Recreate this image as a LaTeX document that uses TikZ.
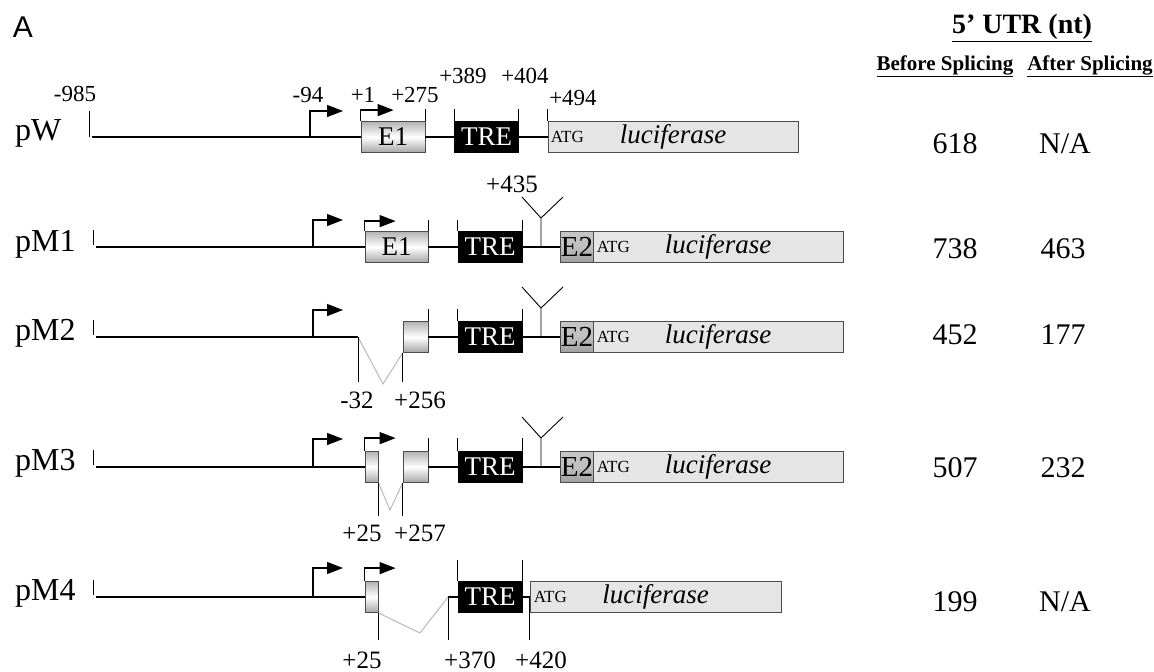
\documentclass[tikz,border=0pt]{standalone}
\usepackage{fontspec}
\setmainfont{Liberation Serif}
\newfontfamily\panelfont{Liberation Sans}
\usetikzlibrary{positioning,arrows.meta}
\newcommand\fsz[1]{\fontsize{#1}{#1}\selectfont}

\begin{document}
\begin{tikzpicture}[x=1pt, y=-1pt,
  bb/.style={line width=2.8pt},
  tk/.style={line width=0.9pt},
  spl/.style={gray!55, line width=1pt},
  prom/.style={line width=1.3pt, -{Triangle[length=16pt,width=12pt]}},
  ex/.style={draw=black!70, line width=0.8pt, minimum height=31pt, inner sep=0pt,
    top color=gray!60, bottom color=gray!70, middle color=white, font=\fsz{27}},
  etwo/.style={ex, top color=gray!45, bottom color=gray!75, middle color=gray!50, font=\fsz{29}},
  tre/.style={draw, fill=black, text=white, minimum height=31pt, minimum width=64pt,
    inner sep=0pt, font=\fsz{27}},
  luc/.style={draw=black!70, line width=0.8pt, fill=gray!20, minimum height=31pt,
    inner sep=0pt, font=\itshape\fsz{27}},
  atg/.style={font=\fsz{17}, inner sep=0pt, anchor=west},
  ntup/.style={font=\fsz{23}, inner sep=0pt},
  ntlow/.style={font=\fsz{25}, inner sep=0pt},
  rowlab/.style={font=\fsz{32}, inner sep=0pt, anchor=base west},
  val/.style={font=\fsz{30}, inner sep=0pt},
  hd/.style={font=\bfseries\fsz{21}, inner sep=0pt}]
  \useasboundingbox (0,0) rectangle (1154,672);

  % header
  \node[font=\panelfont\fsz{30}, inner sep=0pt] (panA) at (23,27) {A};
  \node[hd, font=\bfseries\fsz{28}] (utr) at (1022,28) {\underline{5’ UTR (nt)}};
  \node[hd] (before) at (945,66) {\underline{Before Splicing}};
  \node[hd] (after) at (1090,66) {\underline{After Splicing}};

  % pW
  \node[rowlab] (wLab) at (15,140) {pW};
  \coordinate (wT) at (89,137);
  \coordinate (wS) at (92,137);
  \coordinate (wP) at (310,137);
  \node[ex, minimum width=64pt] (wE1) at (393,137) {E1};
  \node[tre] (wTRE) at (486.5,137) {TRE};
  \node[luc, minimum width=250pt] (wLuc) at (673,137) {luciferase};
  \node[atg] (wATG) at ([xshift=3pt]wLuc.west) {ATG};
  \draw[bb] (wS) -- (wE1.west) (wE1.east) -- (wTRE.west) (wTRE.east) -- (wLuc.west);
  \draw[tk] (wT) -- ++(0,-26);
  \draw[tk] (wE1.north east) -- ++(0,-12) (wTRE.north west) -- ++(0,-12)
    (wTRE.north east) -- ++(0,-12) (wLuc.north west) -- ++(0,-12);
  \draw[prom] (wP) |- ++(33,-26);
  \draw[prom] (wE1.north west) |- ++(33,-11);
  \node[ntup] at (75,94) {-985};
  \node[ntup] at (308,95) {-94};
  \node[ntup] at (363,95) {+1};
  \node[ntup] at (415,95) {+275};
  \node[ntup] at (463,76) {+389};
  \node[ntup] at (525,76) {+404};
  \node[ntup] at (573,98) {+494};
  \node[val] (wB) at (955,144) {618};
  \node[val] (wA) at (1065,144) {N/A};

  % pM1
  \node[rowlab] (aLab) at (15,251) {pM1};
  \coordinate (aT) at (93,247);
  \coordinate (aS) at (96,247);
  \coordinate (aP) at (313,247);
  \coordinate (aY) at (541,247);
  \node[ex, minimum width=63pt] (aE1) at (396.5,247) {E1};
  \node[tre] (aTRE) at (490,247) {TRE};
  \node[etwo, minimum width=32pt] (aE2) at (577,247) {E2};
  \node[luc, minimum width=250pt] (aLuc) at (718,247) {luciferase};
  \node[atg] (aATG) at ([xshift=4pt]aLuc.west) {ATG};
  \draw[bb] (aS) -- (aE1.west) (aE1.east) -- (aTRE.west) (aTRE.east) -- (aE2.west);
  \draw[tk] (aT) ++(0,-2) -- ++(0,-15);
  \draw[tk] (aE1.north east) -- ++(0,-11) (aTRE.north west) -- ++(0,-11)
    (aTRE.north east) -- ++(0,-11);
  \draw[tk] (aY) -- ++(0,-29) coordinate (aYv) -- ++(-19,-21) (aYv) -- ++(22,-21);
  \draw[prom] (aP) |- ++(30,-27);
  \draw[prom] (aE1.north west) |- ++(31,-10);
  \node[ntlow] at (512,184) {+435};
  \node[val] (aB) at (955,249) {738};
  \node[val] (aA) at (1063,249) {463};

  % pM2
  \node[rowlab] (bLab) at (15,340) {pM2};
  \coordinate (bT) at (93,337);
  \coordinate (bS) at (96,337);
  \coordinate (bP) at (313,337);
  \coordinate (bC) at (358,337);
  \coordinate (bV) at (383,384);
  \coordinate (bY) at (541,337);
  \node[ex, minimum width=25pt] (bX) at (415.5,337) {};
  \node[tre] (bTRE) at (490,337) {TRE};
  \node[etwo, minimum width=32pt] (bE2) at (577,337) {E2};
  \node[luc, minimum width=250pt] (bLuc) at (718,337) {luciferase};
  \node[atg] (bATG) at ([xshift=4pt]bLuc.west) {ATG};
  \draw[bb] (bS) -- (bC) (bX.east) -- (bTRE.west) (bTRE.east) -- (bE2.west);
  \draw[spl] (bC) -- (bV) -- (bX.south west);
  \draw[tk] (bT) ++(0,-2) -- ++(0,-15);
  \draw[tk] (bC) -- ++(0,45) (bX.south west) -- ++(0,29);
  \draw[tk] (bX.north east) -- ++(0,-12) (bTRE.north west) -- ++(0,-12)
    (bTRE.north east) -- ++(0,-12);
  \draw[tk] (bY) -- ++(0,-29) coordinate (bYv) -- ++(-19,-21) (bYv) -- ++(22,-21);
  \draw[prom] (bP) |- ++(30,-27);
  \node[ntlow] at (357,400) {-32};
  \node[ntlow] at (420,400) {+256};
  \node[val] (bB) at (955,335) {452};
  \node[val] (bA) at (1063,335) {177};

  % pM3
  \node[rowlab] (cLab) at (15,470) {pM3};
  \coordinate (cT) at (93,467);
  \coordinate (cS) at (96,467);
  \coordinate (cP) at (313,467);
  \coordinate (cV) at (390,510);
  \coordinate (cY) at (541,467);
  \node[ex, minimum width=13pt] (cX1) at (371.5,467) {};
  \node[ex, minimum width=25pt] (cX2) at (415.5,467) {};
  \node[tre] (cTRE) at (490,467) {TRE};
  \node[etwo, minimum width=32pt] (cE2) at (577,467) {E2};
  \node[luc, minimum width=250pt] (cLuc) at (718,467) {luciferase};
  \node[atg] (cATG) at ([xshift=4pt]cLuc.west) {ATG};
  \draw[bb] (cS) -- (cX1.west) (cX2.east) -- (cTRE.west) (cTRE.east) -- (cE2.west);
  \draw[spl] (cX1.south east) -- (cV) -- (cX2.south west);
  \draw[tk] (cT) ++(0,-2) -- ++(0,-15);
  \draw[tk] (cX1.south east) -- ++(0,33) (cX2.south west) -- ++(0,33);
  \draw[tk] (cX2.north east) -- ++(0,-13) (cTRE.north west) -- ++(0,-13)
    (cTRE.north east) -- ++(0,-13);
  \draw[tk] (cY) -- ++(0,-29) coordinate (cYv) -- ++(-19,-21) (cYv) -- ++(22,-21);
  \draw[prom] (cP) |- ++(30,-28);
  \draw[prom] (cX1.north west) |- ++(31,-13);
  \node[ntlow] at (362,533) {+25};
  \node[ntlow] at (420,533) {+257};
  \node[val] (cB) at (955,468) {507};
  \node[val] (cA) at (1063,468) {232};

  % pM4
  \node[rowlab] (dLab) at (15,600) {pM4};
  \coordinate (dT) at (93,597);
  \coordinate (dS) at (96,597);
  \coordinate (dP) at (313,597);
  \coordinate (dV) at (420,633);
  \coordinate (dC) at (448,597);
  \node[ex, minimum width=13pt] (dX) at (371.5,597) {};
  \node[tre] (dTRE) at (490,597) {TRE};
  \node[luc, minimum width=251pt] (dLuc) at (655.5,597) {luciferase};
  \node[atg] (dATG) at ([xshift=4pt]dLuc.west) {ATG};
  \draw[bb] (dS) -- (dX.west) (dC) -- (dTRE.west) (dTRE.east) -- (dLuc.west);
  \draw[spl] (dX.south east) -- (dV) -- (dC);
  \draw[tk] (dT) ++(0,-2) -- ++(0,-15);
  \draw[tk] (dX.south east) -- ++(0,27) (dC) -- ++(0,43) (dLuc.west) -- ++(0,43);
  \draw[tk] (dTRE.north west) -- ++(0,-21) (dTRE.north east) -- ++(0,-21);
  \draw[prom] (dP) |- ++(30,-29);
  \draw[prom] (dX.north west) |- ++(31,-13);
  \node[ntlow] at (362,660) {+25};
  \node[ntlow] at (470,660) {+370};
  \node[ntlow] at (541,660) {+420};
  \node[val] (dB) at (955,602) {199};
  \node[val] (dA) at (1065,602) {N/A};
\end{tikzpicture}
\end{document}
